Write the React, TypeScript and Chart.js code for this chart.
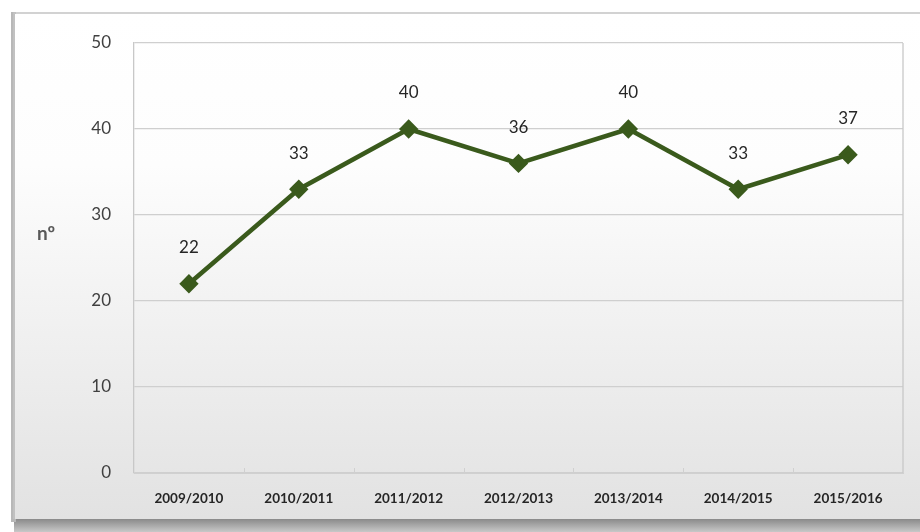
import React, { useEffect, useRef } from "react";
import { Chart, registerables } from "chart.js";

Chart.register(...registerables);

const categories = ["2009/2010", "2010/2011", "2011/2012", "2012/2013", "2013/2014", "2014/2015", "2015/2016"];
const values = [22, 33, 40, 36, 40, 33, 37];
const yTicks = [0, 10, 20, 30, 40, 50];
const yTitle = "nº";

const FONT = "Lato, 'Open Sans', 'DejaVu Sans', sans-serif";

const framePlugin = {
  id: "frame",
  beforeDraw(chart: any) {
    const ctx = chart.ctx;
    const W = chart.width;
    const H = chart.height;
    ctx.save();
    ctx.fillStyle = "#ffffff";
    ctx.fillRect(0, 0, W, H);
    // shadow
    const sg = ctx.createLinearGradient(0, 519, 0, 532);
    sg.addColorStop(0, "#8a8a8a");
    sg.addColorStop(1, "#c8c8c8");
    ctx.fillStyle = sg;
    ctx.fillRect(14, 519, W - 14, 13);
    ctx.fillStyle = "#b8b8b8";
    ctx.fillRect(11, 12, 5, 510);
    // frame fill
    const g = ctx.createLinearGradient(0, 14, 0, 518);
    g.addColorStop(0, "#ffffff");
    g.addColorStop(0.3, "#fdfdfd");
    g.addColorStop(1, "#e2e2e2");
    ctx.fillStyle = g;
    ctx.fillRect(15, 14, W - 15, 505);
    ctx.strokeStyle = "#c4c4c4";
    ctx.lineWidth = 1.5;
    ctx.beginPath();
    ctx.moveTo(14, 519);
    ctx.lineTo(14, 13);
    ctx.lineTo(W, 13);
    ctx.stroke();
    ctx.restore();
  },
  beforeDatasetsDraw(chart: any) {
    const ctx = chart.ctx;
    const x = chart.scales.x;
    const area = chart.chartArea;
    ctx.save();
    // plot right border
    ctx.strokeStyle = "#c8c8c8";
    ctx.lineWidth = 1.3;
    ctx.beginPath();
    ctx.moveTo(area.right, area.top);
    ctx.lineTo(area.right, area.bottom);
    ctx.stroke();
    // x-axis tick marks at category boundaries
    ctx.strokeStyle = "#d0d0d0";
    ctx.lineWidth = 1;
    for (let i = 1; i < categories.length; i++) {
      const px = Math.round((x.getPixelForValue(i - 1) + x.getPixelForValue(i)) / 2) + 0.5;
      ctx.beginPath();
      ctx.moveTo(px, area.bottom);
      ctx.lineTo(px, area.bottom - 5);
      ctx.stroke();
    }
    ctx.restore();
  },
  afterDraw(chart: any) {
    const ctx = chart.ctx;
    const y = chart.scales.y;
    const area = chart.chartArea;
    ctx.save();
    // y title
    ctx.fillStyle = "#595959";
    ctx.font = "bold 19px " + FONT;
    ctx.textAlign = "center";
    ctx.textBaseline = "middle";
    ctx.fillText(yTitle, area.left - 88, y.getPixelForValue(27.8));
    // data labels
    ctx.fillStyle = "#262626";
    ctx.font = "17px " + FONT;
    const meta = chart.getDatasetMeta(0);
    meta.data.forEach((pt: any, i: number) => {
      ctx.fillText(String(values[i]), pt.x, pt.y - 36);
    });
    ctx.restore();
  },
};

export default function App() {
  const ref = useRef<HTMLCanvasElement>(null);
  useEffect(() => {
    document.body.style.margin = "0";
    const chart = new Chart(ref.current!, {
      type: "line",
      data: {
        labels: categories,
        datasets: [
          {
            data: values,
            borderColor: "#3a5a1c",
            backgroundColor: "#3a5a1c",
            borderWidth: 4.5,
            pointStyle: "rectRot",
            pointRadius: 6.5,
            pointHoverRadius: 6.5,
            tension: 0,
          },
        ],
      },
      options: {
        responsive: false,
        animation: false,
        layout: { padding: { left: 0, top: 43, right: 17, bottom: 0 } },
        plugins: { legend: { display: false }, tooltip: { enabled: false } },
        scales: {
          x: {
            offset: true,
            grid: { display: false },
            border: { display: true, color: "#d0d0d0", width: 1 },
            ticks: {
              color: "#262626",
              font: { family: FONT, size: 13.5, weight: "bold" },
              padding: 10,
              maxRotation: 0,
            },
            afterFit(scale: any) {
              scale.height = 59;
            },
          },
          y: {
            min: 0,
            max: 50,
            afterBuildTicks(scale: any) {
              scale.ticks = yTicks.map((v) => ({ value: v }));
            },
            grid: { color: "#cfcfcf", lineWidth: 1.3, drawTicks: false },
            border: { display: true, color: "#c8c8c8", width: 1.3 },
            ticks: {
              color: "#404040",
              font: { family: FONT, size: 17 },
              padding: 23,
            },
            afterFit(scale: any) {
              scale.width = 134;
            },
          },
        },
      },
      plugins: [framePlugin],
    });
    return () => chart.destroy();
  }, []);
  return <canvas ref={ref} width={920} height={532} style={{ display: "block" }} />;
}
